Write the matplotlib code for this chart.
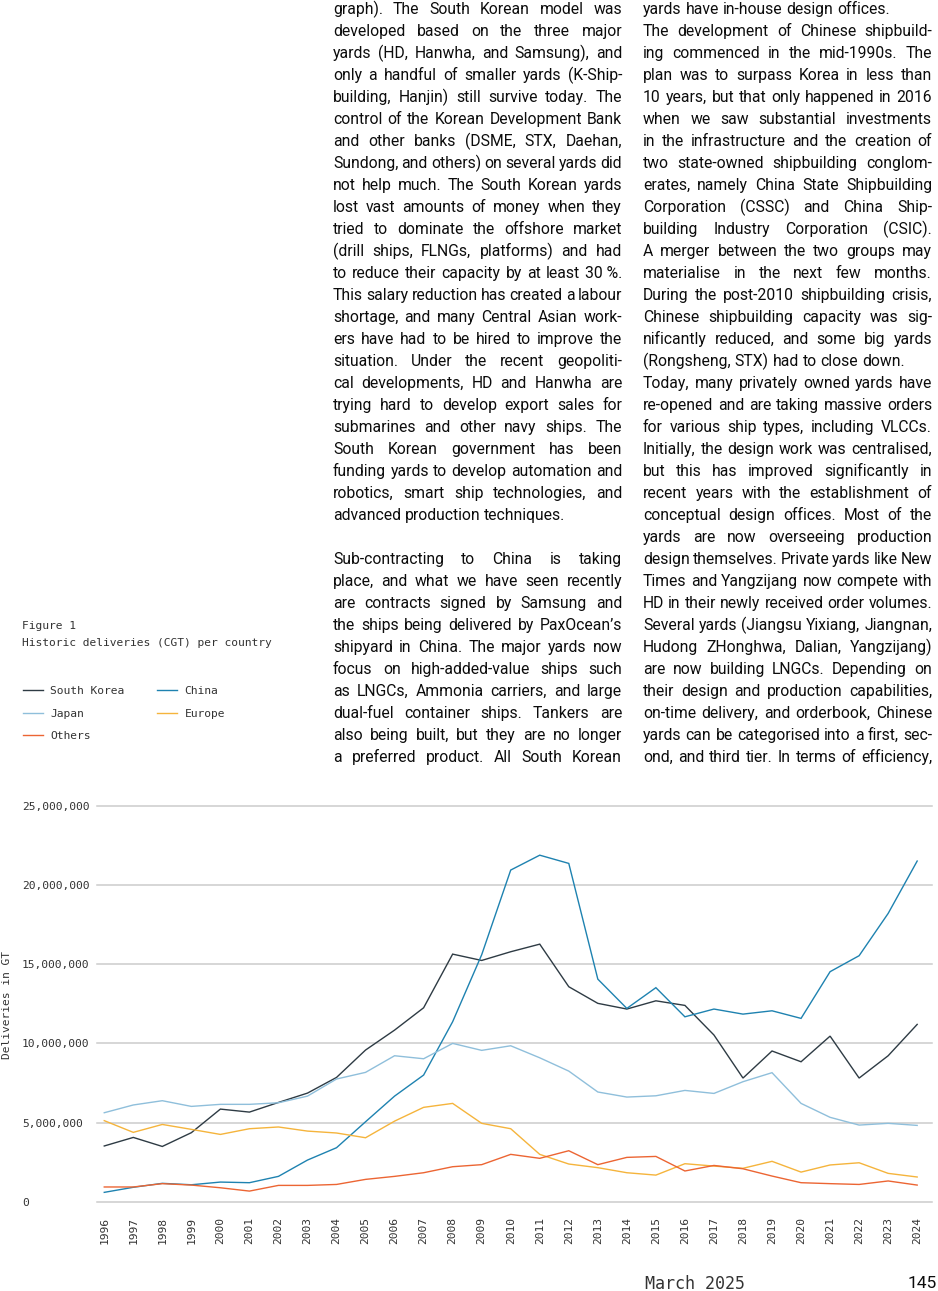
import matplotlib
matplotlib.use("Agg")
import matplotlib.pyplot as plt
from matplotlib.ticker import FuncFormatter

# Deliveries per country, million GT
years = list(range(1996, 2025))
south_korea = [3.52, 4.06, 3.49, 4.36, 5.85, 5.66, 6.27, 6.86, 7.85, 9.58, 10.84, 12.25, 15.64,
               15.24, 15.79, 16.27, 13.58, 12.53, 12.17, 12.69, 12.40, 10.53, 7.81, 9.52, 8.84,
               10.46, 7.81, 9.22, 11.20]
china = [0.59, 0.91, 1.16, 1.07, 1.24, 1.20, 1.60, 2.63, 3.41, 5.05, 6.67, 8.00, 11.37,
         15.60, 20.95, 21.89, 21.37, 14.06, 12.21, 13.52, 11.68, 12.17, 11.85, 12.06, 11.58,
         14.53, 15.54, 18.21, 21.52]
japan = [5.62, 6.11, 6.38, 6.02, 6.15, 6.15, 6.25, 6.67, 7.75, 8.17, 9.22, 9.03, 10.00,
         9.56, 9.85, 9.09, 8.25, 6.93, 6.61, 6.69, 7.03, 6.84, 7.58, 8.15, 6.21,
         5.33, 4.84, 4.95, 4.82]
europe = [5.12, 4.38, 4.88, 4.57, 4.25, 4.61, 4.72, 4.46, 4.34, 4.04, 5.09, 5.96, 6.21,
          4.95, 4.61, 2.99, 2.38, 2.15, 1.83, 1.68, 2.40, 2.25, 2.11, 2.55, 1.87,
          2.32, 2.46, 1.79, 1.56]
others = [0.93, 0.93, 1.14, 1.05, 0.88, 0.67, 1.03, 1.03, 1.09, 1.41, 1.60, 1.83, 2.21,
          2.34, 2.99, 2.74, 3.22, 2.34, 2.80, 2.86, 1.94, 2.29, 2.08, 1.62, 1.20,
          1.14, 1.09, 1.31, 1.05]

series = [("South Korea", south_korea, "#2e3b44"),
          ("China", china, "#1e82b0"),
          ("Japan", japan, "#8fbfdb"),
          ("Europe", europe, "#f5b43c"),
          ("Others", others, "#ec6533")]
legend_order = ["South Korea", "Japan", "Others", "China", "Europe"]

# Body text (two justified columns)
col_left = [
    "graph). The South Korean model was",
    "developed based on the three major",
    "yards (HD, Hanwha, and Samsung), and",
    "only a handful of smaller yards (K-Ship-",
    "building, Hanjin) still survive today. The",
    "control of the Korean Development Bank",
    "and other banks (DSME, STX, Daehan,",
    "Sundong, and others) on several yards did",
    "not help much. The South Korean yards",
    "lost vast amounts of money when they",
    "tried to dominate the offshore market",
    "(drill ships, FLNGs, platforms) and had",
    "to reduce their capacity by at least 30\u00a0%.",
    "This salary reduction has created a labour",
    "shortage, and many Central Asian work-",
    "ers have had to be hired to improve the",
    "situation. Under the recent geopoliti-",
    "cal developments, HD and Hanwha are",
    "trying hard to develop export sales for",
    "submarines and other navy ships. The",
    "South Korean government has been",
    "funding yards to develop automation and",
    "robotics, smart ship technologies, and",
    "advanced production techniques.",
    "",
    "Sub-contracting to China is taking",
    "place, and what we have seen recently",
    "are contracts signed by Samsung and",
    "the ships being delivered by PaxOcean\u2019s",
    "shipyard in China. The major yards now",
    "focus on high-added-value ships such",
    "as LNGCs, Ammonia carriers, and large",
    "dual-fuel container ships. Tankers are",
    "also being built, but they are no longer",
    "a preferred product. All South Korean",
]
col_right = [
    "yards have in-house design offices.",
    "The development of Chinese shipbuild-",
    "ing commenced in the mid-1990s. The",
    "plan was to surpass Korea in less than",
    "10 years, but that only happened in 2016",
    "when we saw substantial investments",
    "in the infrastructure and the creation of",
    "two state-owned shipbuilding conglom-",
    "erates, namely China State Shipbuilding",
    "Corporation (CSSC) and China Ship-",
    "building Industry Corporation (CSIC).",
    "A merger between the two groups may",
    "materialise in the next few months.",
    "During the post-2010 shipbuilding crisis,",
    "Chinese shipbuilding capacity was sig-",
    "nificantly reduced, and some big yards",
    "(Rongsheng, STX) had to close down.",
    "Today, many privately owned yards have",
    "re-opened and are taking massive orders",
    "for various ship types, including VLCCs.",
    "Initially, the design work was centralised,",
    "but this has improved significantly in",
    "recent years with the establishment of",
    "conceptual design offices. Most of the",
    "yards are now overseeing production",
    "design themselves. Private yards like New",
    "Times and Yangzijang now compete with",
    "HD in their newly received order volumes.",
    "Several yards (Jiangsu Yixiang, Jiangnan,",
    "Hudong ZHonghwa, Dalian, Yangzijang)",
    "are now building LNGCs. Depending on",
    "their design and production capabilities,",
    "on-time delivery, and orderbook, Chinese",
    "yards can be categorised into a first, sec-",
    "ond, and third tier. In terms of efficiency,",
]
paragraph_ends = {"advanced production techniques.",
                  "yards have in-house design offices.",
                  "(Rongsheng, STX) had to close down."}

W, H = 938, 1291
MONO = "DejaVu Sans Mono"
SANS = "Roboto"
BODY_SIZE = 11.3
SMALL = 8.1


def fx(x):
    return x / W


def fy(y):
    return 1 - y / H


fig = plt.figure(figsize=(W / 100, H / 100), dpi=100)
fig.patch.set_facecolor("white")
renderer = fig.canvas.get_renderer()


def text_width(s, **kw):
    t = fig.text(0, 0, s, **kw)
    w = t.get_window_extent(renderer).width
    t.remove()
    return w


def body_column(lines, x0, x1, baseline0, step=22):
    kw = dict(fontsize=BODY_SIZE, family=SANS, color="#0c0c0c", va="baseline", ha="left")
    space = text_width("x x", **kw) - text_width("xx", **kw)
    for i, line in enumerate(lines):
        if not line:
            continue
        y = fy(baseline0 + i * step)
        words = line.split(" ")
        widths = [text_width(w, **kw) for w in words]
        if line in paragraph_ends or len(words) == 1:
            gap = space
        else:
            gap = max((x1 - x0 - sum(widths)) / (len(words) - 1), space * 0.45)
        x = x0
        for w, wd in zip(words, widths):
            fig.text(fx(x), y, w, **kw)
            x += wd + gap


body_column(col_left, 333, 622, 14)
body_column(col_right, 643, 932, 14)

# Figure caption and legend in the left margin
fig.text(fx(22), fy(626), "Figure 1", family=MONO, fontsize=SMALL, color="#333333", va="center")
fig.text(fx(22), fy(643), "Historic deliveries (CGT) per country", family=MONO, fontsize=SMALL,
         color="#333333", va="center")

# Chart
px_per_m = 15.83
y0_px = 1201.7
ax = fig.add_axes([fx(96.7), 1 - y0_px / H, (931.7 - 96.7) / W, 25 * px_per_m / H])
handles = {}
for name, vals, color in series:
    ln, = ax.plot(years, [v * 1e6 for v in vals], color=color, lw=1.0, clip_on=False,
                  solid_joinstyle="miter", label=name)
    handles[name] = ln

ax.set_xlim(1995.74, 2024.5)
ax.set_ylim(0, 25e6)
ax.set_yticks([0, 5e6, 10e6, 15e6, 20e6, 25e6])
ax.yaxis.set_major_formatter(FuncFormatter(lambda v, p: f"{int(v):,}"))
ax.set_xticks(years)
ax.set_xticklabels([str(y) for y in years], rotation=90, family=MONO, fontsize=SMALL, color="#333333")
for lab in ax.get_yticklabels():
    lab.set_ha("left")
    lab.set_family(MONO)
    lab.set_fontsize(SMALL)
    lab.set_color("#333333")
ax.tick_params(axis="y", length=0, pad=(96.7 - 22) * 0.72)
ax.tick_params(axis="x", length=0, pad=11)
ax.grid(axis="y", color="#cbcbcb", lw=1.1)
ax.set_axisbelow(True)
for gl in ax.get_ygridlines():
    gl.set_clip_on(False)
for s in ax.spines.values():
    s.set_visible(False)
ax.set_facecolor("none")

fig.text(fx(7), fy(1005), "Deliveries in GT", rotation=90, family=MONO, fontsize=SMALL,
         color="#333333", va="center", ha="center")

fig.legend([handles[n] for n in legend_order], legend_order, ncol=2, loc="upper left",
           bbox_to_anchor=(fx(23), fy(686)), frameon=False, borderpad=0, borderaxespad=0,
           handlelength=1.8, handletextpad=0.63, columnspacing=2.9, labelspacing=1.12,
           prop={"family": MONO, "size": SMALL}, labelcolor="#333333")

# Footer
fig.text(fx(645), fy(1284), "March 2025", family=MONO, fontsize=12, color="#333333", va="center")
fig.text(fx(937), fy(1283), "145", family=SANS, fontsize=12.5, color="#0c0c0c", va="center", ha="right")

fig.savefig("out.png", dpi=100)
